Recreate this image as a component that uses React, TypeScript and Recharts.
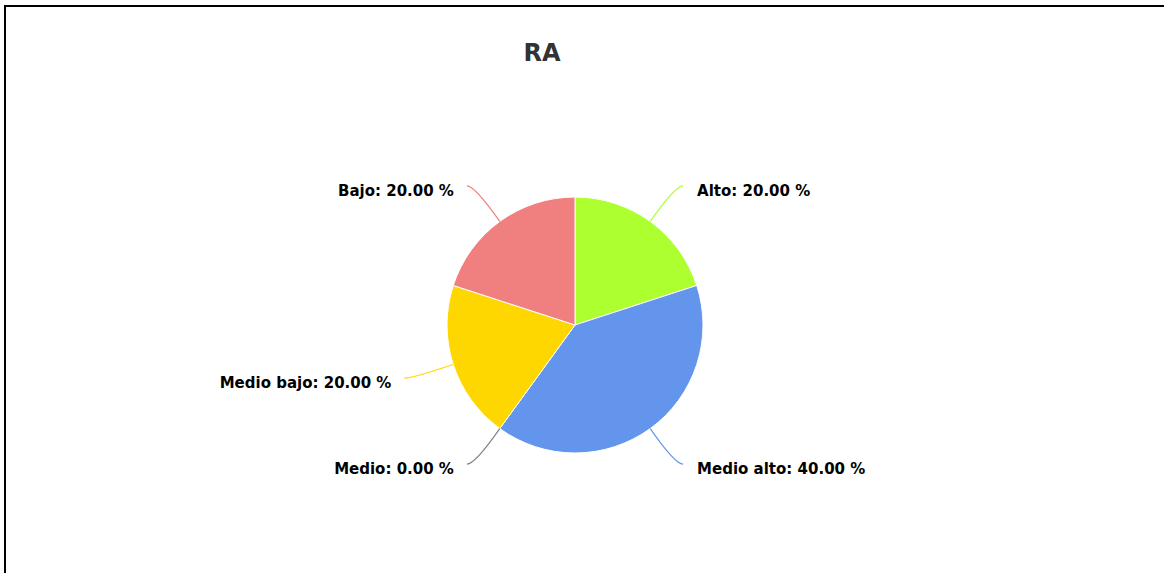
import { Cell, Pie, PieChart } from 'recharts'

const CATEGORIES = ['Alto', 'Medio alto', 'Medio', 'Medio bajo', 'Bajo']
const PERCENTS = [20, 40, 0, 20, 20]
const COLORS = ['#adff2f', '#6495ed', '#808080', '#ffd700', '#f08080']

const RADIAN = Math.PI / 180
const FONT = '"DejaVu Sans", sans-serif'

const data = CATEGORIES.map((name, i) => ({ name, value: PERCENTS[i] }))

function renderLabel(props: any) {
  const { cx, cy, midAngle, outerRadius, index } = props
  const cos = Math.cos(-midAngle * RADIAN)
  const sin = Math.sin(-midAngle * RADIAN)
  const side = cos >= 0 ? 1 : -1
  const sx = cx + outerRadius * cos
  const sy = cy + outerRadius * sin
  const ex = cx + (outerRadius + 44) * cos + side * 7
  const ey = cy + (outerRadius + 44) * sin
  const qx = ex - side * 8
  const color = COLORS[index % COLORS.length]
  return (
    <g key={`lbl-${index}`}>
      <path d={`M${sx},${sy}Q${qx},${ey} ${ex},${ey}`} stroke={color} fill="none" strokeWidth={1.2} />
      <text
        x={ex + side * 14 + (side < 0 ? 1 : 0)}
        y={ey + 5}
        textAnchor={side > 0 ? 'start' : 'end'}
        dominantBaseline="central"
        fill="#000"
        fontFamily={FONT}
        fontWeight="bold"
        fontSize={15}
      >
        {`${data[index].name}: ${data[index].value.toFixed(2)} %`}
      </text>
    </g>
  )
}

export default function App() {
  return (
    <div style={{ position: 'fixed', left: 0, top: 0, width: 1164, height: 573, background: '#fff', overflow: 'hidden' }}>
      <div
        style={{
          position: 'absolute',
          left: 4,
          top: 5,
          right: 0,
          bottom: 0,
          borderTop: '2px solid #000',
          borderLeft: '2px solid #000',
        }}
      />
      <div
        style={{
          position: 'absolute',
          left: 442,
          width: 200,
          top: 39,
          textAlign: 'center',
          fontFamily: FONT,
          fontWeight: 'bold',
          fontSize: 24,
          color: '#333',
        }}
      >
        RA
      </div>
      <div style={{ position: 'absolute', left: 0, top: 0 }}>
        <PieChart width={1164} height={573} margin={{ top: 0, right: 0, bottom: 0, left: 0 }}>
          <Pie
            data={data}
            dataKey="value"
            nameKey="name"
            cx={575}
            cy={325}
            outerRadius={128}
            startAngle={90}
            endAngle={-270}
            stroke="#fff"
            strokeWidth={1}
            label={renderLabel}
            labelLine={false}
            isAnimationActive={false}
          >
            {data.map((d, i) => (
              <Cell key={d.name} fill={COLORS[i]} />
            ))}
          </Pie>
        </PieChart>
      </div>
    </div>
  )
}
